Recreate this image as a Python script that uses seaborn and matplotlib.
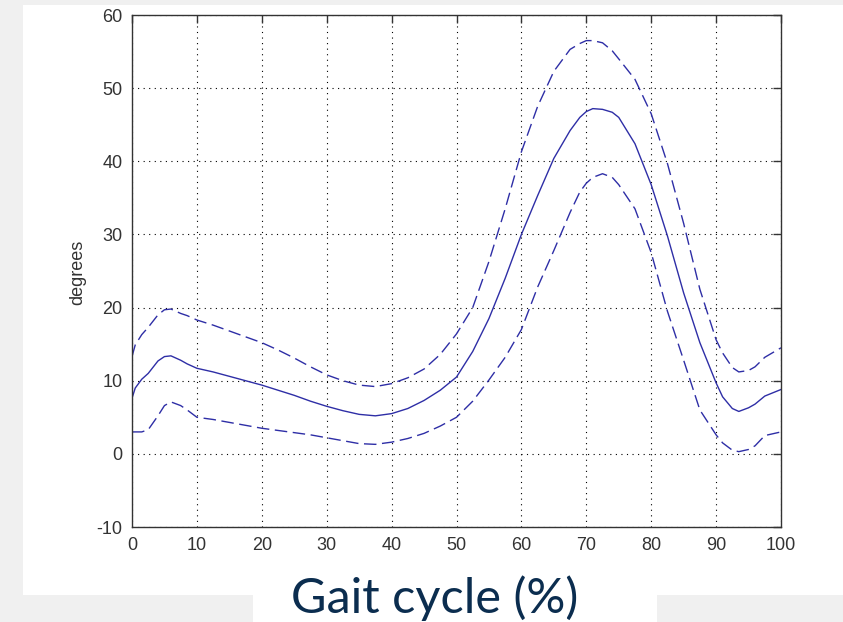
import matplotlib
matplotlib.use("Agg")
import matplotlib.pyplot as plt
from matplotlib.patches import Rectangle
import seaborn as sns
import pandas as pd

# ---- data ----
gait_pct = [0, 0.5, 1.5, 2.5, 4, 5, 6, 7.5, 8.5, 10, 12.5, 15, 17.5, 20, 22.5, 25,
            27.5, 30, 32.5, 35, 37.5, 40, 42.5, 45, 47.5, 50, 52.5, 55, 57.5, 60,
            62.5, 65, 67.5, 69, 70, 71, 72.5, 74, 75, 77.5, 80, 82.5, 85, 87.5, 90,
            91, 92.5, 93.5, 95, 96, 97.5, 100]
mean_deg = [7.6, 9.0, 10.2, 11.0, 12.7, 13.3, 13.4, 12.8, 12.3, 11.7, 11.2, 10.6,
            10.0, 9.4, 8.7, 8.0, 7.2, 6.5, 5.9, 5.4, 5.2, 5.5, 6.2, 7.3, 8.7, 10.5,
            14.0, 18.5, 24.0, 30.0, 35.3, 40.4, 44.2, 46.0, 46.8, 47.2, 47.1, 46.7,
            46.0, 42.4, 36.8, 29.8, 22.0, 15.2, 9.7, 7.8, 6.2, 5.8, 6.3, 6.8, 7.9,
            8.8]
upper_deg = [13.3, 14.9, 16.3, 17.3, 19.0, 19.7, 19.8, 19.2, 18.9, 18.3, 17.6, 16.8,
             16.0, 15.2, 14.2, 13.1, 11.9, 10.8, 10.0, 9.4, 9.2, 9.6, 10.4, 11.6,
             13.6, 16.4, 20.0, 26.3, 33.5, 41.3, 47.5, 52.3, 55.3, 56.1, 56.5, 56.5,
             56.2, 55.1, 54.0, 51.2, 46.5, 39.7, 31.5, 22.5, 15.6, 13.8, 11.8, 11.2,
             11.4, 11.9, 13.2, 14.5]
lower_deg = [3.0, 3.0, 3.0, 3.3, 5.2, 6.6, 7.1, 6.6, 6.0, 5.0, 4.7, 4.3, 3.9, 3.5,
             3.2, 2.9, 2.6, 2.2, 1.8, 1.4, 1.3, 1.6, 2.1, 2.8, 3.8, 5.0, 7.2, 10.1,
             13.2, 17.0, 22.8, 27.8, 33.0, 35.8, 37.0, 37.8, 38.3, 37.8, 36.8, 33.5,
             27.5, 19.5, 12.8, 6.0, 2.6, 1.5, 0.5, 0.3, 0.6, 1.1, 2.5, 3.0]
x_ticks = [0, 10, 20, 30, 40, 50, 60, 70, 80, 90, 100]
y_ticks = [-10, 0, 10, 20, 30, 40, 50, 60]
y_label = "degrees"
x_label = "Gait cycle (%)"

line_color = "#2e2ea6"

sns.set_style("white")
plt.rcParams["font.family"] = ["Liberation Sans", "DejaVu Sans"]
plt.rcParams["axes.unicode_minus"] = False

W, H = 843, 622
fig = plt.figure(figsize=(W / 100, H / 100), dpi=100)
fig.patch.set_facecolor("#f0f0f0")

# white panels of the original screenshot (drawn beneath the axes)
fig.patches.append(Rectangle((23 / W, 1 - 595 / H), (W - 23) / W, (595 - 5) / H,
                             transform=fig.transFigure, facecolor="white",
                             edgecolor="none", zorder=-10))
fig.patches.append(Rectangle((253 / W, 0), (657 - 253) / W, 1 - 595 / H + 0.002,
                             transform=fig.transFigure, facecolor="white",
                             edgecolor="none", zorder=-10))

ax = fig.add_axes([132 / W, 1 - 527 / H, (781 - 132) / W, (527 - 15) / H])
ax.set_zorder(5)
ax.set_facecolor("white")

df = pd.DataFrame({"x": gait_pct, "mean": mean_deg, "upper": upper_deg, "lower": lower_deg})

sns.lineplot(data=df, x="x", y="mean", ax=ax, color=line_color, linewidth=1.0)
sns.lineplot(data=df, x="x", y="upper", ax=ax, color=line_color, linewidth=1.0)
ax.lines[-1].set_dashes((9, 4))
sns.lineplot(data=df, x="x", y="lower", ax=ax, color=line_color, linewidth=1.0)
ax.lines[-1].set_dashes((9, 4))

ax.set_xlim(0, 100)
ax.set_ylim(-10, 60)
ax.set_xticks(x_ticks)
ax.set_yticks(y_ticks)
ax.grid(True, color="black", linestyle=(0, (1, 4)), linewidth=0.8)
ax.set_axisbelow(True)

for s in ax.spines.values():
    s.set_visible(True)
    s.set_color("#333333")
    s.set_linewidth(1.0)

ax.tick_params(direction="in", length=5.5, width=1.0, color="#333333",
               top=True, right=True, labelsize=13, labelcolor="#333333", pad=7)

ax.set_xlabel("")
ax.set_ylabel(y_label, fontsize=13, color="#333333")
ax.yaxis.set_label_coords(-0.071, 0.498)

fig.text(435 / W, 9 / H, x_label, ha="center", va="baseline",
         fontsize=35, color="#0b2d4f", family=["Lato", "DejaVu Sans"])

fig.savefig("out.png", dpi=100, facecolor=fig.get_facecolor())
